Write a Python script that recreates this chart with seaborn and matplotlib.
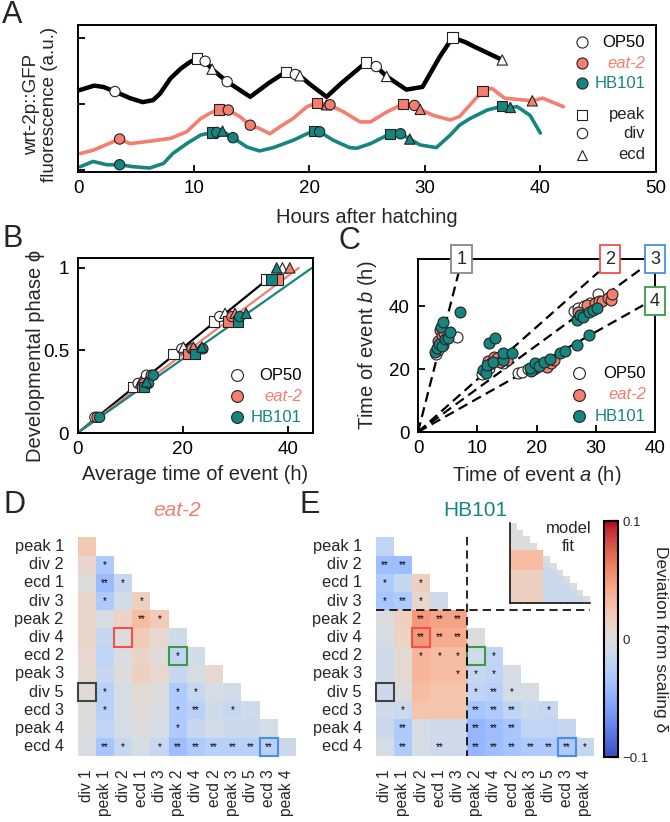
import numpy as np
import pandas as pd
import matplotlib
matplotlib.use("Agg")
import matplotlib.pyplot as plt
import seaborn as sns
from matplotlib.patches import Rectangle

# ---------------- panel A: wrt-2p::GFP traces ----------------
op50_hours = [0.1, 1.4, 2.2, 3.2, 4.5, 5.6, 6.5, 7.1, 8.0, 8.9, 9.7, 10.3, 11.0, 11.6, 12.9, 14.9, 16.5,
              18.0, 18.8, 19.2, 20.0, 21.5, 22.8, 24.9, 25.8, 26.7, 28.4, 29.8, 31.3, 32.4, 33.5, 34.3, 36.7]
op50_fluo = [1.21, 1.28, 1.26, 1.19, 1.09, 1.03, 1.06, 1.16, 1.39, 1.54, 1.64, 1.69, 1.65, 1.53, 1.34, 1.11, 1.32,
             1.49, 1.45, 1.43, 1.31, 1.11, 1.32, 1.63, 1.57, 1.42, 1.22, 1.26, 1.72, 2.01, 1.94, 1.87, 1.67]
eat2_hours = [0.2, 1.3, 3.6, 4.5, 5.9, 8.0, 9.4, 10.6, 11.4, 12.2, 13.0, 14.0, 14.9, 15.7, 16.6, 17.5, 18.6, 19.8,
              20.7, 21.7, 23.0, 24.4, 25.3, 26.7, 28.1, 29.1, 29.6, 30.7, 32.2, 33.0, 35.0, 35.8, 36.9, 39.3, 40.2, 42.0]
eat2_fluo = [0.25, 0.30, 0.47, 0.40, 0.43, 0.48, 0.58, 0.78, 0.86, 0.92, 0.91, 0.81, 0.68, 0.63, 0.55, 0.66, 0.78, 0.96,
             1.02, 0.99, 0.88, 0.73, 0.73, 0.88, 1.00, 0.98, 0.92, 0.83, 0.76, 0.81, 1.20, 1.24, 1.09, 1.05, 1.09, 0.96]
hb101_hours = [0.2, 1.3, 2.5, 3.6, 4.8, 6.2, 7.4, 8.2, 9.4, 10.6, 11.6, 12.0, 12.5, 13.4, 14.6, 15.7, 16.9, 18.6, 19.8,
               20.4, 20.9, 22.1, 23.5, 24.1, 25.3, 27.0, 27.9, 28.7, 29.6, 31.0, 32.2, 33.0, 33.9, 35.4, 36.7, 37.4,
               38.0, 39.1, 40.0]
hb101_fluo = [0.05, 0.13, 0.08, 0.08, 0.05, 0.03, 0.10, 0.25, 0.40, 0.53, 0.57, 0.57, 0.59, 0.49, 0.35, 0.29, 0.34, 0.45,
              0.55, 0.59, 0.58, 0.45, 0.34, 0.33, 0.40, 0.55, 0.55, 0.47, 0.38, 0.34, 0.53, 0.68, 0.78, 0.91, 0.97, 0.95,
              0.96, 0.83, 0.56]

op50_ev_hours = [3.2, 10.3, 11.0, 11.6, 12.9, 18.0, 18.8, 19.2, 24.9, 25.8, 26.7, 32.4, 36.7]
op50_ev_fluo = [1.19, 1.69, 1.65, 1.53, 1.34, 1.49, 1.45, 1.43, 1.63, 1.57, 1.42, 2.01, 1.67]
op50_ev_type = ['div', 'peak', 'div', 'ecd', 'div', 'peak', 'div', 'ecd', 'peak', 'div', 'ecd', 'peak', 'ecd']
eat2_ev_hours = [3.6, 12.2, 13.0, 14.9, 20.7, 21.5, 21.8, 28.1, 29.1, 29.6, 35.0, 39.3]
eat2_ev_fluo = [0.47, 0.92, 0.91, 0.68, 1.02, 0.99, 0.99, 1.00, 0.98, 0.92, 1.20, 1.05]
eat2_ev_type = ['div', 'peak', 'div', 'div', 'peak', 'ecd', 'div', 'peak', 'div', 'ecd', 'peak', 'ecd']
hb101_ev_hours = [3.6, 11.6, 12.0, 12.5, 13.4, 20.4, 20.9, 27.0, 27.9, 28.7, 36.7, 37.4]
hb101_ev_fluo = [0.08, 0.57, 0.57, 0.59, 0.49, 0.59, 0.58, 0.55, 0.55, 0.47, 0.97, 0.95]
hb101_ev_type = ['div', 'peak', 'div', 'ecd', 'div', 'peak', 'div', 'peak', 'div', 'ecd', 'peak', 'ecd']

# ---------------- panel B: developmental phase ----------------
b_event_type = ['div', 'peak', 'div', 'ecd', 'div', 'peak', 'div', 'ecd', 'peak', 'div', 'ecd', 'peak', 'ecd']
b_phase = [0.095, 0.28, 0.30, 0.31, 0.35, 0.48, 0.51, 0.52, 0.675, 0.705, 0.725, 0.93, 1.0]
op50_avg_time = [3.3, 10.6, 11.5, 12.0, 13.1, 18.2, 19.8, 20.1, 25.9, 27.0, 28.0, 35.9, 38.9]
eat2_avg_time = [3.7, 12.3, 12.6, 13.0, 14.0, 21.0, 21.7, 22.0, 28.6, 29.3, 29.9, 38.1, 40.3]
hb101_avg_time = [4.2, 12.6, 13.5, 13.1, 14.4, 22.3, 23.8, 23.6, 30.4, 30.8, 32.0, 36.8, 37.8]
fit_time_op50 = [0, 37.0]
fit_phase_op50 = [0, 0.955]
fit_time_eat2 = [0, 42.0]
fit_phase_eat2 = [0, 1.0]
fit_time_hb101 = [0, 44.5]
fit_phase_hb101 = [0, 1.0]

# ---------------- panel C: event pairs ----------------
op50_a = [3.0, 3.3, 3.8, 4.2, 6.5, 10.8, 11.3, 12.0, 12.5, 13.5, 14.4, 16.8, 17.5, 18.5, 19.5, 20.5, 21.5,
          26.3, 27.0, 28.0, 29.0, 30.3]
op50_b = [24.8, 26.0, 28.5, 27.5, 30.3, 18.5, 19.5, 20.5, 22.5, 23.0, 21.9, 18.8, 19.0, 20.0, 20.5, 21.2, 22.0,
          38.5, 39.3, 40.0, 41.0, 44.0]
eat2_a = [3.3, 3.5, 3.7, 4.0, 4.4, 11.5, 11.8, 12.2, 12.8, 13.3, 13.9, 15.0, 19.5, 20.0, 20.7, 21.8, 22.5, 23.0,
          27.0, 28.5, 29.9, 30.5, 31.0, 32.0, 32.5, 32.7]
eat2_b = [29.0, 27.5, 32.4, 30.5, 31.5, 20.5, 22.5, 21.5, 24.0, 23.4, 22.4, 23.0, 20.0, 20.8, 21.3, 20.7, 21.8, 22.8,
          38.0, 40.5, 40.9, 41.8, 41.5, 42.5, 42.1, 44.0]
hb101_a = [2.8, 3.2, 3.6, 3.8, 4.0, 4.3, 4.6, 5.0, 5.4, 7.1, 11.0, 11.5, 11.6, 12.0, 12.7, 13.0, 14.4, 14.4, 15.8,
           19.0, 18.9, 19.8, 20.5, 21.2, 22.3, 24.0, 24.8, 26.8, 28.8, 26.8, 27.4, 27.8, 28.8, 29.5, 30.2]
hb101_b = [25.5, 26.8, 28.0, 33.5, 27.2, 35.0, 29.5, 30.0, 31.8, 38.2, 19.7, 18.9, 21.3, 28.3, 22.4, 29.9, 23.0, 25.1,
           25.1, 19.5, 20.5, 21.9, 21.0, 22.4, 23.1, 25.1, 25.6, 27.7, 30.9, 35.5, 37.1, 36.5, 38.2, 38.8, 39.3]
c_line_a = [6.9, 30.5, 38.0, 38.0]
c_line_b = [51.0, 50.9, 52.3, 40.3]
c_box_labels = ['1', '2', '3', '4']
c_box_a = [7.4, 32.4, 40.0, 40.0]
c_box_b = [55.0, 55.0, 55.0, 41.6]

# ---------------- panels D/E: deviation from scaling ----------------
row_labels = ['peak 1', 'div 2', 'ecd 1', 'div 3', 'peak 2', 'div 4', 'ecd 2', 'peak 3', 'div 5', 'ecd 3',
              'peak 4', 'ecd 4']
col_labels = ['div 1', 'peak 1', 'div 2', 'ecd 1', 'div 3', 'peak 2', 'div 4', 'ecd 2', 'peak 3', 'div 5',
              'ecd 3', 'peak 4']
eat2_dev = [
    [0.022],
    [0.010, -0.030],
    [0.001, -0.042, -0.015],
    [0.010, -0.030, -0.008, 0.015],
    [0.010, -0.004, 0.012, 0.030, 0.020],
    [0.010, -0.015, 0.000, 0.020, 0.008, -0.010],
    [0.008, -0.020, -0.003, 0.012, 0.003, -0.020, -0.008],
    [0.005, -0.015, 0.000, 0.015, 0.008, -0.015, -0.005, 0.008],
    [0.002, -0.025, -0.005, 0.005, 0.000, -0.030, -0.015, -0.005, -0.008],
    [0.000, -0.025, -0.005, 0.002, -0.003, -0.030, -0.025, -0.010, -0.015, -0.010],
    [0.000, -0.020, -0.005, 0.000, -0.005, -0.030, -0.015, -0.008, -0.012, -0.012, -0.005],
    [-0.003, -0.035, -0.015, -0.005, -0.015, -0.040, -0.030, -0.025, -0.025, -0.025, -0.025, -0.012],
]
eat2_sig = [
    [''],
    ['', '*'],
    ['', '**', '*'],
    ['', '*', '', '*'],
    ['', '', '', '**', '*'],
    ['', '', '', '', '', ''],
    ['', '', '', '', '', '*', ''],
    ['', '', '', '', '', '', '', ''],
    ['', '*', '', '', '', '*', '*', '', ''],
    ['', '*', '', '', '', '*', '**', '', '*', ''],
    ['', '', '', '', '', '*', '', '', '', '', ''],
    ['', '**', '*', '', '*', '**', '**', '**', '**', '**', '**', ''],
]
hb101_dev = [
    [-0.020],
    [-0.040, -0.040],
    [-0.030, -0.015, 0.015],
    [-0.035, -0.030, 0.010, -0.010],
    [0.000, 0.015, 0.050, 0.045, 0.045],
    [-0.005, 0.012, 0.050, 0.040, 0.040, 0.000],
    [-0.010, 0.005, 0.035, 0.030, 0.030, -0.010, -0.020],
    [-0.010, 0.005, 0.035, 0.030, 0.030, -0.015, -0.020, -0.005],
    [-0.012, 0.000, 0.030, 0.025, 0.025, -0.020, -0.025, -0.005, -0.005],
    [-0.010, -0.012, 0.025, 0.025, 0.025, -0.035, -0.030, -0.020, -0.012, -0.015],
    [-0.012, -0.030, -0.005, -0.010, -0.010, -0.045, -0.040, -0.035, -0.020, -0.020, -0.015],
    [-0.005, -0.030, -0.005, -0.012, -0.010, -0.045, -0.040, -0.035, -0.030, -0.030, -0.030, -0.015],
]
hb101_sig = [
    [''],
    ['**', '**'],
    ['*', '', '*'],
    ['*', '**', '*', ''],
    ['', '', '**', '**', '**'],
    ['', '', '**', '**', '**', ''],
    ['', '', '*', '*', '*', '', '*'],
    ['', '', '', '', '*', '*', '*', ''],
    ['', '', '', '', '', '*', '**', '*', ''],
    ['', '*', '', '', '', '**', '**', '**', '', '*'],
    ['', '**', '', '', '', '**', '**', '**', '', '', ''],
    ['', '**', '', '**', '', '**', '**', '**', '**', '**', '**', '*'],
]
model_dev = [
    [0.0],
    [0.0, 0.0],
    [0.0, 0.0, 0.0],
    [0.0, 0.0, 0.0, 0.0],
    [0.03, 0.03, 0.03, 0.03, 0.03],
    [0.03, 0.03, 0.03, 0.03, 0.03, 0.0],
    [0.03, 0.03, 0.03, 0.03, 0.03, -0.012, 0.0],
    [0.015, 0.015, 0.015, 0.015, 0.015, -0.012, -0.012, 0.0],
    [0.015, 0.015, 0.015, 0.015, 0.015, -0.012, -0.012, -0.012, 0.0],
    [0.015, 0.015, 0.015, 0.015, 0.015, -0.012, -0.012, -0.012, -0.012, 0.0],
    [0.015, 0.015, 0.015, 0.015, 0.015, -0.012, -0.012, -0.012, -0.012, -0.012, 0.0],
    [0.015, 0.015, 0.015, 0.015, 0.015, -0.012, -0.012, -0.012, -0.012, -0.012, -0.012, 0.0],
]
box_rows = [8, 5, 11, 6]
box_cols = [0, 2, 10, 5]

# ---------------- style ----------------
SALMON = '#F47F6E'
TEAL = '#16857F'
EDGE = '#222222'
BOX_COLORS = ['#888888', '#F2504B', '#4A8FE7', '#3C9A45']
HEAT_BOX_COLORS = ['#444444', '#F2504B', '#4A8FE7', '#3C9A45']
MARKERS = {'peak': 's', 'div': 'o', 'ecd': '^'}

sns.set_theme(style='ticks')
plt.rcParams['font.family'] = ['Liberation Sans', 'DejaVu Sans']
plt.rcParams['mathtext.fontset'] = 'custom'
plt.rcParams['mathtext.rm'] = 'Liberation Sans'
plt.rcParams['mathtext.it'] = 'Liberation Sans:italic'

W, H = 670, 822
fig = plt.figure(figsize=(W / 100, H / 100), dpi=100)


def px_axes(x0, y0, x1, y1):
    return fig.add_axes([x0 / W, 1 - y1 / H, (x1 - x0) / W, (y1 - y0) / H])


def frame(ax):
    for s in ax.spines.values():
        s.set_visible(True)
        s.set_linewidth(1.4)
        s.set_color('black')
    ax.tick_params(direction='in', length=5, width=1.3, labelsize=13.5, pad=6, colors='black')


STRAIN_KEY = [('OP50', 'white', 'black', 'normal'),
              ('eat-2', SALMON, SALMON, 'italic'),
              ('HB101', TEAL, TEAL, 'normal')]


def strain_key(ax, mx, tx, ys, ms=8.5):
    for (name, face, tcol, tstyle), y in zip(STRAIN_KEY, ys):
        ax.plot([mx], [y], marker='o', ms=ms, mfc=face, mec=EDGE, mew=0.8, ls='none',
                transform=ax.transAxes, clip_on=False)
        ax.text(tx, y, name, ha='right', va='center', color=tcol, style=tstyle, fontsize=12,
                transform=ax.transAxes)


def panel_label(x, y, s):
    fig.text(x / W, 1 - y / H, s, fontsize=22, ha='center', va='center')


# ---------------- A ----------------
axA = px_axes(78, 25, 656, 172)
traces = [(op50_hours, op50_fluo, 'black', 3.2), (eat2_hours, eat2_fluo, SALMON, 2.6),
          (hb101_hours, hb101_fluo, TEAL, 2.6)]
for t, f, c, lw in traces:
    sns.lineplot(x=t, y=f, color=c, linewidth=lw, estimator=None, sort=False, ax=axA, legend=False)
events = [(op50_ev_hours, op50_ev_fluo, op50_ev_type, 'white'),
          (eat2_ev_hours, eat2_ev_fluo, eat2_ev_type, SALMON),
          (hb101_ev_hours, hb101_ev_fluo, hb101_ev_type, TEAL)]
for t, f, ev, face in events:
    sns.scatterplot(x=t, y=f, style=ev, markers=MARKERS, color=face, edgecolor=EDGE, linewidth=0.8,
                    s=55, legend=False, ax=axA, zorder=4)
axA.set_xlim(0, 50)
axA.set_ylim(-0.03, 2.2)
axA.set_xticks([0, 10, 20, 30, 40, 50])
axA.set_yticks([0, 1, 2])
axA.set_yticklabels([])
frame(axA)
axA.set_xlabel('Hours after hatching', fontsize=14.5, labelpad=8)
axA.set_ylabel('wrt-2p::GFP\nfluorescence (a.u.)', fontsize=13.5, linespacing=1.1)
axA.yaxis.set_label_coords(-0.034, 0.46)
strain_key(axA, 0.872, 0.981, [0.884, 0.741, 0.605], ms=8)
for (name, mk), y in zip([('peak', 's'), ('div', 'o'), ('ecd', '^')], [0.388, 0.265, 0.116]):
    axA.plot([0.872], [y], marker=mk, ms=7.5, mfc='white', mec=EDGE, mew=0.8, ls='none',
             transform=axA.transAxes)
    axA.text(0.981, y, name, ha='right', va='center', fontsize=12, transform=axA.transAxes)

# ---------------- B ----------------
axB = px_axes(77.5, 258, 313, 433)
fits = [(fit_time_op50, fit_phase_op50, 'black'), (fit_time_eat2, fit_phase_eat2, SALMON),
        (fit_time_hb101, fit_phase_hb101, TEAL)]
for t, p, c in fits:
    sns.lineplot(x=t, y=p, color=c, linewidth=1.6, estimator=None, ax=axB, legend=False)
for t, face in [(op50_avg_time, 'white'), (eat2_avg_time, SALMON), (hb101_avg_time, TEAL)]:
    sns.scatterplot(x=t, y=b_phase, style=b_event_type, markers=MARKERS, color=face, edgecolor=EDGE,
                    linewidth=0.8, s=55, legend=False, ax=axB, zorder=4)
axB.set_xlim(0, 44.7)
axB.set_ylim(0, 1.06)
axB.set_xticks([0, 20, 40])
axB.set_yticks([0, 0.5, 1])
axB.set_yticklabels(['0', '0.5', '1'])
frame(axB)
axB.set_xlabel('Average time of event (h)', fontsize=14.5, labelpad=5)
axB.set_ylabel('Developmental phase \u03d5', fontsize=14.5)
axB.yaxis.set_label_coords(-0.14, 0.44)
strain_key(axB, 0.677, 0.953, [0.331, 0.211, 0.091])

# ---------------- C ----------------
axC = px_axes(418, 259, 655, 432)
for a_end, b_end in zip(c_line_a, c_line_b):
    sns.lineplot(x=[0, a_end], y=[0, b_end], color='black', linewidth=1.6, estimator=None, ax=axC,
                 legend=False)
for ln in axC.lines:
    ln.set_dashes((4.5, 2.5))
for a, b, face in [(op50_a, op50_b, 'white'), (eat2_a, eat2_b, SALMON), (hb101_a, hb101_b, TEAL)]:
    sns.scatterplot(x=a, y=b, color=face, edgecolor=EDGE, linewidth=0.8, s=62, legend=False, ax=axC, zorder=4)
for lab, a, b, col in zip(c_box_labels, c_box_a, c_box_b, BOX_COLORS):
    axC.text(a, b, lab, ha='center', va='center', fontsize=13, clip_on=False, zorder=6,
             bbox=dict(boxstyle='square,pad=0.3', fc='white', ec=col, lw=1.3))
axC.set_xlim(0, 40)
axC.set_ylim(0, 55)
axC.set_xticks([0, 10, 20, 30, 40])
axC.set_yticks([0, 20, 40])
frame(axC)
axC.set_xlabel('Time of event $\\mathit{a}$ (h)', fontsize=14.5, labelpad=5)
axC.set_ylabel('Time of event $\\mathit{b}$ (h)', fontsize=14.5)
axC.yaxis.set_label_coords(-0.165, 0.5)
strain_key(axC, 0.679, 0.962, [0.341, 0.214, 0.092])


# ---------------- D / E ----------------
def tri_frame(vals):
    n = len(vals)
    m = np.full((n, n), np.nan)
    for i, row in enumerate(vals):
        m[i, :len(row)] = row
    return pd.DataFrame(m, index=row_labels, columns=col_labels)


def tri_annot(sig):
    n = len(sig)
    a = np.full((n, n), '', dtype=object)
    for i, row in enumerate(sig):
        a[i, :len(row)] = row
    return a


def heat(ax, vals, sig, cbar_ax=None):
    df = tri_frame(vals)
    sns.heatmap(df, mask=df.isna(), cmap='coolwarm', vmin=-0.1, vmax=0.1, annot=tri_annot(sig), fmt='',
                annot_kws={'fontsize': 7, 'color': 'black'}, cbar=cbar_ax is not None, cbar_ax=cbar_ax,
                xticklabels=True, yticklabels=True, ax=ax,
                cbar_kws={'ticks': [-0.1, 0, 0.1]} if cbar_ax is not None else None)
    ax.set_xticklabels(col_labels, rotation=90, fontsize=11.2)
    ax.set_yticklabels(row_labels, rotation=0, fontsize=11.8)
    ax.tick_params(length=0)
    ax.tick_params(axis='x', pad=10)
    ax.tick_params(axis='y', pad=10)
    for r, c, col in zip(box_rows, box_cols, HEAT_BOX_COLORS):
        ax.add_patch(Rectangle((c, r), 1, 1, fill=False, ec=col, lw=1.5, clip_on=False, zorder=5))


axD = px_axes(77.7, 537.3, 296, 755.7)
heat(axD, eat2_dev, eat2_sig)
axD.set_title('eat-2', color=SALMON, style='italic', fontsize=15, x=0.455, pad=15)

axE = px_axes(375.7, 537.3, 594, 755.7)
cax = px_axes(604, 521, 618, 757)
heat(axE, hb101_dev, hb101_sig, cbar_ax=cax)
axE.set_title('HB101', color=TEAL, fontsize=15, x=0.455, pad=15)
axE.plot([5, 5], [0, 12], color='black', lw=1.2, ls=(0, (5, 3)), zorder=6, clip_on=False)
axE.plot([0, 11.8], [4, 4], color='black', lw=1.2, ls=(0, (5, 3)), zorder=6, clip_on=False)

cb = axE.collections[0].colorbar
cb.outline.set_linewidth(1.5)
cb.outline.set_edgecolor('black')
cb.set_ticklabels(['\u22120.1', '0', '0.1'])
cb.ax.tick_params(direction='in', length=6, width=1.6, labelsize=9.5, pad=3)
cb.set_label('Deviation from scaling \u03b4', rotation=270, fontsize=12.5, labelpad=14)

axIn = px_axes(510, 523, 590, 603)
mdf = tri_frame(model_dev)
sns.heatmap(mdf, mask=mdf.isna(), cmap='coolwarm', vmin=-0.1, vmax=0.1, cbar=False, ax=axIn,
            xticklabels=False, yticklabels=False)
axIn.set_xticks(np.arange(12) + 0.5)
axIn.set_yticks(np.arange(12) + 0.5)
axIn.set_xticklabels([])
axIn.set_yticklabels([])
axIn.tick_params(direction='in', length=3, width=0.8, left=True, bottom=True, colors='black')
for side in ['left', 'bottom']:
    axIn.spines[side].set_visible(True)
    axIn.spines[side].set_linewidth(1.1)
    axIn.spines[side].set_color('black')
axIn.text(0.73, 0.82, 'model\nfit', ha='center', va='center', fontsize=12, linespacing=1.25,
          transform=axIn.transAxes)

panel_label(12, 15, 'A')
panel_label(13, 239, 'B')
panel_label(349, 241, 'C')
panel_label(14, 505, 'D')
panel_label(310, 505, 'E')

fig.savefig('out.png', dpi=100)
